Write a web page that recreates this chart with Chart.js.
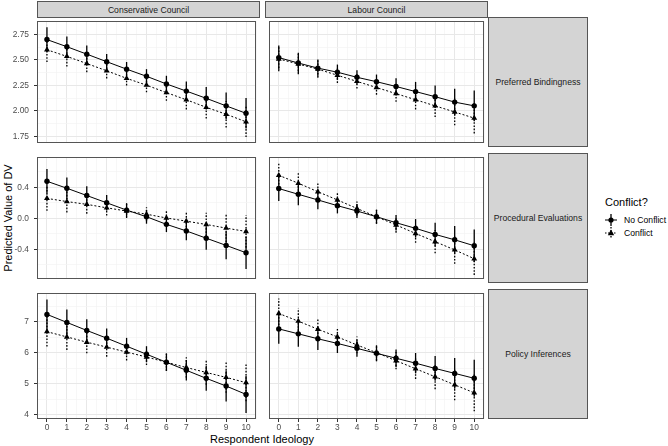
<!DOCTYPE html>
<html>
<head>
<meta charset="utf-8">
<script src="https://cdn.jsdelivr.net/npm/chart.js@4.4.1/dist/chart.umd.min.js"></script>
<style>
body{margin:0;background:#fff;font-family:"Liberation Sans",Arial,sans-serif}
#wrap{position:relative;width:668px;height:446px;overflow:hidden;background:#fff}
canvas{position:absolute}
.strip{position:absolute;box-sizing:border-box;background:#d4d4d4;border:1px solid #555;
  color:#1a1a1a;font-size:8.6px;display:flex;align-items:center;justify-content:center;white-space:nowrap}
.title{position:absolute;font-size:11px;color:#000;white-space:nowrap}
.leg{position:absolute;font-size:8.6px;color:#000;white-space:nowrap}
</style>
</head>
<body>
<div id="wrap">
  <div class="strip" style="left:37px;top:1px;width:223px;height:17px">Conservative Council</div>
  <div class="strip" style="left:265px;top:1px;width:223px;height:17px">Labour Council</div>
  <div class="strip" style="left:488px;top:17px;width:100px;height:130px">Preferred Bindingness</div>
  <div class="strip" style="left:488px;top:153px;width:100px;height:130px">Procedural Evaluations</div>
  <div class="strip" style="left:488px;top:289px;width:100px;height:130px">Policy Inferences</div>

  <div class="title" style="left:8px;top:218px;transform:translate(-50%,-50%) rotate(-90deg)">Predicted Value of DV</div>
  <div class="title" style="left:262px;top:439px;transform:translate(-50%,-50%)">Respondent Ideology</div>

  <div class="title" style="left:605px;top:196px">Conflict?</div>
  <svg style="position:absolute;left:603px;top:213px" width="16" height="14">
    <line x1="2" y1="7" x2="14" y2="7" stroke="#000" stroke-width="1"/>
    <line x1="8" y1="1" x2="8" y2="13" stroke="#000" stroke-width="1.3"/>
    <circle cx="8" cy="7" r="2.6" fill="#000"/>
  </svg>
  <div class="leg" style="left:624px;top:215px">No Conflict</div>
  <svg style="position:absolute;left:603px;top:226px" width="16" height="14">
    <line x1="2" y1="7" x2="14" y2="7" stroke="#000" stroke-width="1" stroke-dasharray="1.5,1.5"/>
    <line x1="8" y1="1" x2="8" y2="13" stroke="#000" stroke-width="1.3" stroke-dasharray="1.5,1.5"/>
    <polygon points="8,3.6 11.2,9.2 4.8,9.2" fill="#000"/>
  </svg>
  <div class="leg" style="left:624px;top:228px">Conflict</div>
</div>

<script>
// ===== DATA =====
const ideology = [0, 1, 2, 3, 4, 5, 6, 7, 8, 9, 10];

// Preferred Bindingness
const consBindNo   = [2.70, 2.63, 2.557, 2.483, 2.41, 2.34, 2.265, 2.195, 2.124, 2.05, 1.977];
const consBindConf = [2.60, 2.535, 2.465, 2.394, 2.32, 2.253, 2.18, 2.11, 2.036, 1.968, 1.894];
const labBindNo    = [2.523, 2.47, 2.42, 2.38, 2.33, 2.287, 2.24, 2.19, 2.14, 2.087, 2.05];
const labBindConf  = [2.51, 2.46, 2.41, 2.35, 2.29, 2.23, 2.17, 2.11, 2.05, 1.99, 1.93];
const ciBind       = [0.12, 0.10, 0.085, 0.075, 0.07, 0.07, 0.08, 0.095, 0.11, 0.13, 0.15];

// Procedural Evaluations
const consProcNo   = [0.478, 0.388, 0.294, 0.20, 0.106, 0.02, -0.078, -0.163, -0.257, -0.35, -0.445];
const consProcConf = [0.257, 0.216, 0.18, 0.135, 0.094, 0.053, 0.004, -0.037, -0.08, -0.127, -0.17];
const labProcNo    = [0.384, 0.31, 0.237, 0.163, 0.094, 0.02, -0.057, -0.13, -0.208, -0.278, -0.355];
const labProcConf  = [0.555, 0.453, 0.343, 0.237, 0.127, 0.02, -0.086, -0.196, -0.302, -0.408, -0.522];
const ciProc       = [0.16, 0.14, 0.12, 0.10, 0.09, 0.09, 0.10, 0.12, 0.15, 0.18, 0.21];

// Policy Inferences
const consPolNo    = [7.24, 6.98, 6.72, 6.47, 6.21, 5.95, 5.69, 5.43, 5.17, 4.92, 4.65];
const consPolConf  = [6.68, 6.51, 6.34, 6.18, 6.02, 5.86, 5.69, 5.52, 5.36, 5.20, 5.03];
const labPolNo     = [6.77, 6.61, 6.45, 6.30, 6.14, 5.98, 5.82, 5.66, 5.49, 5.33, 5.17];
const labPolConf   = [7.27, 7.02, 6.76, 6.51, 6.25, 6.00, 5.74, 5.48, 5.22, 4.96, 4.70];
const ciPol        = [0.48, 0.42, 0.36, 0.31, 0.27, 0.26, 0.28, 0.33, 0.40, 0.50, 0.60];

// tick labels
const bindTicks = [1.75, 2.00, 2.25, 2.50, 2.75];
const procTicks = [-0.4, 0.0, 0.4];
const polTicks  = [4, 5, 6, 7];

const FONT = '"Liberation Sans", Arial, sans-serif';

// ===== PLUGINS =====
const errorBars = {
  id: 'errorBars',
  beforeDatasetsDraw(chart){
    const {ctx, scales:{x, y}} = chart;
    chart.data.datasets.forEach(ds => {
      ctx.save();
      ctx.strokeStyle = '#000';
      ctx.lineWidth = 1.3;
      ctx.setLineDash(ds.barDash);
      ds.data.forEach((p, i) => {
        const px = x.getPixelForValue(p.x);
        ctx.beginPath();
        ctx.moveTo(px, y.getPixelForValue(p.y - ds.ci[i]));
        ctx.lineTo(px, y.getPixelForValue(p.y + ds.ci[i]));
        ctx.stroke();
      });
      ctx.restore();
    });
  }
};

const panelBorder = {
  id: 'panelBorder',
  afterDraw(chart){
    const {ctx, chartArea:a} = chart;
    ctx.save();
    ctx.strokeStyle = '#555';
    ctx.lineWidth = 1;
    ctx.strokeRect(a.left + 0.5, a.top + 0.5, a.right - a.left - 1, a.bottom - a.top - 1);
    ctx.restore();
  }
};

// ===== PANELS =====
function withMinor(major, min, max){
  const step = major[1] - major[0];
  const out = [];
  for(let v = major[0] - step/2; v <= max + 1e-9; v += step/2){
    if(v >= min - 1e-9) out.push(+v.toFixed(6));
  }
  return out;
}
const isMajor = (list, v) => list.some(m => Math.abs(m - v) < 1e-6);

const xMajor = ideology;
const xAll = withMinor(xMajor, -0.5, 10.5);

function makePanel(p){
  const cv = document.createElement('canvas');
  const w = p.yAxis ? 260 : 223;
  const h = p.xAxis ? 146 : 130;
  cv.width = w; cv.height = h;
  cv.style.left = (p.yAxis ? 0 : 265) + 'px';
  cv.style.top = p.top + 'px';
  cv.style.width = w + 'px'; cv.style.height = h + 'px';
  document.getElementById('wrap').appendChild(cv);

  const yAll = withMinor(p.ticks, p.min, p.max);

  new Chart(cv, {
    type: 'line',
    data: {
      datasets: [
        {
          data: ideology.map((x, i) => ({x, y: p.no[i]})),
          ci: p.ci, barDash: [],
          borderColor: '#000', borderWidth: 1, tension: 0,
          pointStyle: 'circle', pointRadius: 2.7,
          pointBackgroundColor: '#000', pointBorderWidth: 0
        },
        {
          data: ideology.map((x, i) => ({x, y: p.yes[i]})),
          ci: p.ci, barDash: [1.6, 1.6],
          borderColor: '#000', borderWidth: 1, borderDash: [2, 2], tension: 0,
          pointStyle: 'triangle', pointRadius: 3.4,
          pointBackgroundColor: '#000', pointBorderWidth: 0
        }
      ]
    },
    options: {
      responsive: false,
      animation: false,
      events: [],
      layout: {padding: 0},
      plugins: {legend: {display: false}, tooltip: {enabled: false}},
      scales: {
        x: {
          type: 'linear', min: -0.5, max: 10.5,
          afterBuildTicks: s => { s.ticks = xAll.map(v => ({value: v})); },
          afterFit: s => { s.height = p.xAxis ? 16 : 0; s.paddingLeft = 0; s.paddingRight = 0; },
          border: {display: false},
          grid: {
            color: c => isMajor(xMajor, c.tick.value) ? '#e8e8e8' : '#f3f3f3',
            lineWidth: c => isMajor(xMajor, c.tick.value) ? 1 : 0.7,
            drawTicks: p.xAxis, tickLength: 3, tickWidth: 1,
            tickColor: c => isMajor(xMajor, c.tick.value) ? '#333' : 'rgba(0,0,0,0)'
          },
          ticks: {
            display: p.xAxis, autoSkip: false, maxRotation: 0, padding: 1,
            color: '#4d4d4d', font: {family: FONT, size: 8.4},
            callback: v => isMajor(xMajor, v) ? String(Math.round(v)) : ''
          }
        },
        y: {
          type: 'linear', min: p.min, max: p.max,
          afterBuildTicks: s => { s.ticks = yAll.map(v => ({value: v})); },
          afterFit: s => { s.width = p.yAxis ? 37 : 0; s.paddingTop = 0; s.paddingBottom = 0; },
          border: {display: false},
          grid: {
            color: c => isMajor(p.ticks, c.tick.value) ? '#e8e8e8' : '#f3f3f3',
            lineWidth: c => isMajor(p.ticks, c.tick.value) ? 1 : 0.7,
            drawTicks: p.yAxis, tickLength: 3, tickWidth: 1,
            tickColor: c => isMajor(p.ticks, c.tick.value) ? '#333' : 'rgba(0,0,0,0)'
          },
          ticks: {
            display: p.yAxis, autoSkip: false, padding: 5,
            color: '#4d4d4d', font: {family: FONT, size: 8.4},
            callback: v => isMajor(p.ticks, v) ? v.toFixed(p.dec) : ''
          }
        }
      }
    },
    plugins: [errorBars, panelBorder]
  });
}

const panels = [
  {no: consBindNo, yes: consBindConf, ci: ciBind, ticks: bindTicks, dec: 2, min: 1.686, max: 2.882, top: 17,  yAxis: true,  xAxis: false},
  {no: labBindNo,  yes: labBindConf,  ci: ciBind, ticks: bindTicks, dec: 2, min: 1.686, max: 2.882, top: 17,  yAxis: false, xAxis: false},
  {no: consProcNo, yes: consProcConf, ci: ciProc, ticks: procTicks, dec: 1, min: -0.784, max: 0.7915, top: 153, yAxis: true,  xAxis: false},
  {no: labProcNo,  yes: labProcConf,  ci: ciProc, ticks: procTicks, dec: 1, min: -0.784, max: 0.7915, top: 153, yAxis: false, xAxis: false},
  {no: consPolNo,  yes: consPolConf,  ci: ciPol,  ticks: polTicks,  dec: 0, min: 3.853, max: 7.932, top: 289, yAxis: true,  xAxis: true},
  {no: labPolNo,   yes: labPolConf,   ci: ciPol,  ticks: polTicks,  dec: 0, min: 3.853, max: 7.932, top: 289, yAxis: false, xAxis: true}
];

panels.forEach(makePanel);
</script>
</body>
</html>
